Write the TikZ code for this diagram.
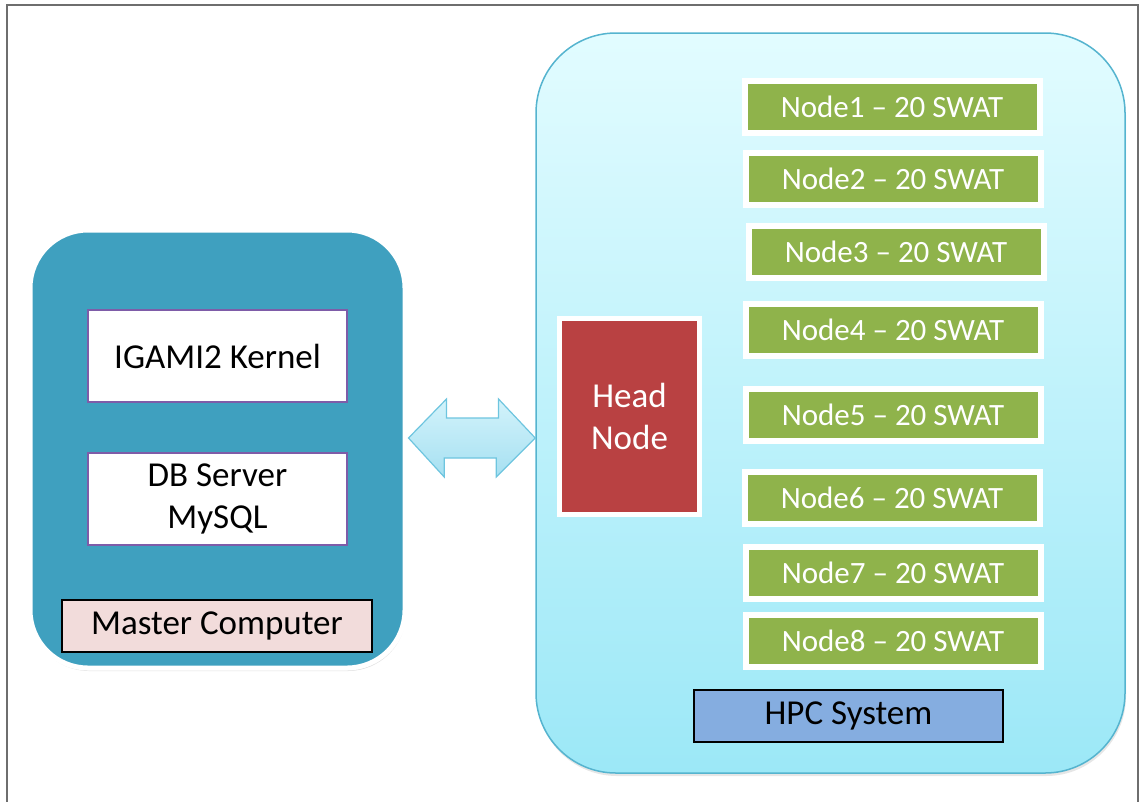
\documentclass[tikz,border=0pt]{standalone}
\usepackage{fontspec}
\setmainfont{Carlito}
\usetikzlibrary{shadows}
\definecolor{masterblue}{HTML}{3FA0BF}
\definecolor{kpurple}{HTML}{7E5CA8}
\definecolor{mpink}{HTML}{F2DCDB}
\definecolor{hpctop}{HTML}{E2FCFF}
\definecolor{hpcbot}{HTML}{9CE8F7}
\definecolor{hpcline}{HTML}{55B4CF}
\definecolor{headred}{HTML}{B94142}
\definecolor{swatgreen}{HTML}{8FB34B}
\definecolor{hpcsys}{HTML}{85ADE0}
\definecolor{arrtop}{HTML}{D3F3FB}
\definecolor{arrbot}{HTML}{A6E0F1}
\definecolor{arrline}{HTML}{6EC5DF}
\definecolor{framegray}{HTML}{6E6E6E}
\begin{document}
\begin{tikzpicture}[x=1pt,y=-1pt,
  bigfont/.style={font=\fontsize{35}{42}\selectfont},
  nodefont/.style={font=\fontsize{31}{36}\selectfont},
  masterbox/.style={draw=white,line width=5pt,fill=masterblue,rounded corners=58pt,
    minimum width=375pt,minimum height=438pt,inner sep=0pt,
    drop shadow={shadow xshift=1pt,shadow yshift=-3pt,opacity=0.25}},
  softbox/.style={draw=kpurple,line width=1.5pt,fill=white,minimum width=259pt,
    minimum height=92pt,inner sep=0pt,align=center,bigfont},
  labelbox/.style={draw=black,line width=1.2pt,minimum width=310pt,minimum height=52pt,
    inner sep=0pt,bigfont},
  hpcbox/.style={draw=hpcline,line width=1.5pt,top color=hpctop,bottom color=hpcbot,
    rounded corners=80pt,minimum width=589pt,minimum height=740pt,inner sep=0pt,
    drop shadow={shadow xshift=1pt,shadow yshift=-3pt,opacity=0.2}},
  headbox/.style={draw=white,line width=5pt,fill=headred,minimum width=140pt,
    minimum height=196pt,inner sep=0pt,align=center,text=white,bigfont,
    drop shadow={shadow xshift=1pt,shadow yshift=-2pt,opacity=0.3}},
  swatbox/.style={draw=white,line width=6pt,fill=swatgreen,minimum width=295pt,
    minimum height=52pt,inner sep=0pt,text=white,nodefont,
    drop shadow={shadow xshift=1pt,shadow yshift=-2pt,opacity=0.3}}
]
\useasboundingbox (0,0) rectangle (1139,801);
\begin{scope}
\clip (0,0) rectangle (1139,801);
\draw[framegray,line width=2pt] (7,5) rectangle (1138,810);
\end{scope}

% master computer
\node[masterbox] (master) at (217.5,449) {};
\node[softbox] (kernel) at (217.5,356) {IGAMI2 Kernel};
\node[softbox] (db) at (217.5,499) {DB Server\\MySQL};
\node[labelbox,fill=mpink] (mlabel) at (217,626) {Master Computer};

% HPC system
\node[hpcbox] (hpc) at (830.5,403) {};
\node[headbox] (head) at (629.5,416.5) {Head\\Node};
\node[swatbox] (n1) at (892,107) {Node1 -- 20 SWAT};
\node[swatbox] (n2) at (893,178.5) {Node2 -- 20 SWAT};
\node[swatbox] (n3) at (896,252) {Node3 -- 20 SWAT};
\node[swatbox] (n4) at (893,330) {Node4 -- 20 SWAT};
\node[swatbox] (n5) at (893,414.5) {Node5 -- 20 SWAT};
\node[swatbox] (n6) at (892,498) {Node6 -- 20 SWAT};
\node[swatbox] (n7) at (893,573) {Node7 -- 20 SWAT};
\node[swatbox] (n8) at (893,641) {Node8 -- 20 SWAT};
\node[labelbox,fill=hpcsys,minimum width=309pt] (hlabel) at (848.5,716) {HPC System};

% double arrow between master and HPC
\coordinate (al) at (master.east |- 0,438);
\coordinate (ar) at (hpc.west |- 0,438);
\draw[arrline,line width=1.2pt,top color=arrtop,bottom color=arrbot]
  ([xshift=1pt]al) -- ++(38,-39) -- ++(0,19) -- ++(52,0) -- ++(0,-19)
  -- (ar) -- ++(-39,39) -- ++(0,-19) -- ++(-52,0) -- ++(0,19) -- cycle;
\end{tikzpicture}
\end{document}
